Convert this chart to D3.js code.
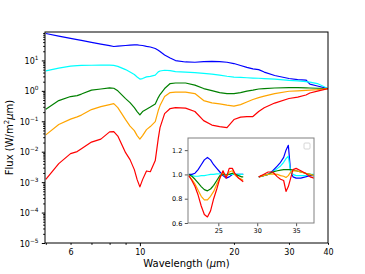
<!DOCTYPE html>
<html lang="en">
<head>
<meta charset="utf-8"/>
<style>
	body {
		margin: 0;
		background-color: #FFFFFF;
	}
	* {
		font-family: "DejaVu Sans", sans-serif;
	}
	.domain {
		display: none;
	}
	.tick line {
		stroke: #000000;
	}
	.inset .tick line {
		stroke: #555555;
	}
	.curve {
		fill: none;
		stroke-width: 1.2;
		stroke-linejoin: round;
	}
</style>
</head>
<body>
<svg id="container" width="365" height="274"></svg>

<script src="https://d3js.org/d3.v7.min.js"></script>
<script>
	// main panel: wavelength grid (micron) and flux of each model (W/m^2 um)
	let wave = [5.0, 5.5, 6.0, 6.3, 6.5, 7.0, 7.5, 8.0, 8.25, 8.5, 9.0, 9.3, 9.6, 9.8, 10.0,
		10.2, 10.5, 10.8, 11.2, 11.45, 11.6, 12.0, 12.5, 13, 14, 15, 16, 17, 18, 19,
		20, 21, 22, 23, 24, 25, 27, 30, 32, 34, 35, 37, 40]
	let fluxBlue = [76.7, 63, 53, 48.3, 45.5, 39.4, 34.4, 30.5, 28.7, 29.5, 31, 32, 32.6, 32.3, 31.6,
		31, 29.1, 27.6, 24.6, 21.5, 19.6, 15.1, 12, 9.9, 8.9, 8.7, 9.1, 9.3, 9.2, 8.7,
		7.9, 6.8, 5.9, 5.3, 5.0, 4.15, 3.2, 2.55, 2.35, 2.27, 1.67, 1.44, 1.19]
	let fluxCyan = [4.55, 5.6, 6.5, 6.75, 6.9, 6.95, 7.06, 7.0, 6.9, 6.4, 5.0, 4.15, 3.44, 2.84, 2.44,
		2.54, 2.89, 3.0, 3.3, 4.2, 4.5, 4.76, 4.6, 4.31, 4.15, 4.0, 3.77, 3.57, 3.31, 3.02,
		2.84, 2.78, 2.7, 2.64, 2.6, 2.54, 2.43, 2.21, 2.13, 2.02, 1.95, 1.74, 1.19]
	let fluxGreen = [0.248, 0.48, 0.65, 0.7, 0.785, 1.06, 1.15, 1.25, 1.22, 1.0, 0.558, 0.41, 0.28, 0.209, 0.162,
		0.209, 0.248, 0.293, 0.368, 0.6, 0.756, 1.19, 1.74, 1.81, 1.81, 1.55, 1.19, 1.02, 0.88, 0.81,
		0.81, 0.88, 0.985, 1.06, 1.15, 1.19, 1.24, 1.28, 1.28, 1.25, 1.24, 1.22, 1.19]
	let fluxOrange = [0.0357, 0.078, 0.118, 0.14, 0.16, 0.243, 0.305, 0.354, 0.382, 0.282, 0.114, 0.0695, 0.0494, 0.0339, 0.026,
		0.0339, 0.0533, 0.067, 0.098, 0.225, 0.328, 0.65, 0.88, 0.914, 0.914, 0.815, 0.48, 0.403, 0.373, 0.34,
		0.316, 0.354, 0.43, 0.52, 0.6, 0.675, 0.815, 0.97, 1.0, 1.04, 1.06, 1.1, 1.19]
	let fluxRed = [0.00124, 0.00406, 0.00866, 0.0101, 0.0126, 0.0207, 0.026, 0.0448, 0.0458, 0.0326, 0.0093, 0.0055, 0.00258, 0.00121, 0.0007,
		0.00121, 0.00233, 0.0022, 0.0051, 0.027, 0.062, 0.179, 0.262, 0.282, 0.272, 0.21, 0.105, 0.075, 0.067, 0.062,
		0.114, 0.137, 0.143, 0.143, 0.21, 0.28, 0.397, 0.56, 0.625, 0.73, 0.85, 0.985, 1.19]

	// inset: ratio around 1, two wavelength windows
	let insetWaveA = [21.2, 21.6, 22.0, 22.4, 22.8, 23.2, 23.6, 24.0, 24.4, 24.8, 25.2, 25.6, 26.0, 26.4, 26.8, 27.2, 27.6, 28.0, 28.2]
	let ratioBlueA = [1.0, 1.0, 1.01, 1.04, 1.08, 1.12, 1.14, 1.12, 1.08, 1.05, 1.02, 0.99, 0.97, 0.98, 1.0, 1.0, 1.0, 1.0, 1.0]
	let ratioCyanA = [0.99, 0.99, 0.985, 0.985, 0.99, 0.99, 0.995, 1.0, 1.0, 1.005, 1.005, 1.005, 1.0, 1.0, 1.0, 1.0, 1.0, 1.0, 1.0]
	let ratioGreenA = [1.0, 0.985, 0.96, 0.93, 0.9, 0.875, 0.865, 0.88, 0.91, 0.95, 0.99, 1.0, 0.995, 1.0, 1.01, 1.0, 0.99, 0.98, 0.98]
	let ratioOrangeA = [0.99, 0.96, 0.92, 0.87, 0.82, 0.79, 0.79, 0.82, 0.86, 0.92, 0.97, 1.02, 0.98, 1.02, 1.03, 0.99, 0.97, 0.96, 0.95]
	let ratioRedA = [0.99, 0.95, 0.9, 0.83, 0.74, 0.67, 0.65, 0.7, 0.8, 0.88, 0.97, 1.03, 0.97, 1.05, 1.05, 1.0, 0.97, 0.95, 0.94]

	let insetWaveB = [30.2, 30.8, 31.4, 32.0, 32.6, 33.0, 33.4, 33.7, 34.0, 34.3, 34.6, 35.0, 35.6, 36.2, 36.8, 37.3]
	let ratioBlueB = [0.98, 0.99, 1.0, 1.03, 1.07, 1.1, 1.14, 1.2, 1.24, 1.02, 0.98, 0.97, 0.97, 0.98, 0.99, 0.99]
	let ratioCyanB = [0.98, 0.99, 1.0, 1.02, 1.05, 1.07, 1.1, 1.13, 1.15, 1.02, 1.0, 0.99, 0.99, 0.99, 1.0, 1.0]
	let ratioGreenB = [0.98, 0.99, 1.0, 1.02, 1.03, 1.035, 1.04, 1.04, 1.04, 1.04, 1.035, 1.03, 1.02, 1.01, 1.0, 0.99]
	let ratioOrangeB = [0.98, 0.99, 1.0, 1.005, 1.0, 0.99, 0.985, 0.975, 0.99, 1.02, 1.03, 1.03, 1.02, 1.01, 1.0, 0.99]
	let ratioRedB = [0.98, 1.0, 1.02, 1.02, 0.98, 0.96, 0.95, 0.86, 0.9, 0.97, 1.04, 1.05, 1.03, 1.01, 0.98, 0.97]

	let colors = ["#0000ff", "#00ffff", "#008000", "#ffa500", "#ff0000"]

	// tick labels
	let xLabelTicks = [6, 20, 30, 40]
	let xMinorTicks = [5, 6, 7, 8, 9, 20, 30, 40]
	let yDecades = [-5, -4, -3, -2, -1, 0, 1]
	let insetXTicks = [25, 30, 35]
	let insetYTicks = [0.6, 0.8, 1.0, 1.2]

	let svg = d3.select("#container")
	let mLeft = 45, mRight = 328, mTop = 32, mBottom = 243

	let xScale = d3.scaleLog().domain([4.97, 40]).range([mLeft, mRight])
	let yScale = d3.scaleLog().domain([1e-5, 86]).range([mBottom, mTop])

	svg.append("clipPath").attr("id", "mainclip")
		.append("rect").attr("x", mLeft).attr("y", mTop).attr("width", mRight - mLeft).attr("height", mBottom - mTop)

	let line = d3.line()
		.x(d => xScale(d[0]))
		.y(d => yScale(d[1]))

	let mainSeries = [fluxBlue, fluxCyan, fluxGreen, fluxOrange, fluxRed]
	svg.append("g").attr("clip-path", "url(#mainclip)")
		.selectAll("path")
		.data(mainSeries)
		.join("path")
		.attr("class", "curve")
		.attr("stroke", (d, i) => colors[i])
		.attr("d", d => line(wave.map((w, i) => [w, d[i]])))

	// x axis: minor ticks (some labelled) + major at 10
	svg.append("g")
		.attr("transform", "translate(0," + mBottom + ")")
		.call(d3.axisBottom(xScale).tickValues(xMinorTicks).tickSize(1.8).tickPadding(4.4)
			.tickFormat(d => xLabelTicks.includes(d) ? d : ""))
		.attr("font-size", 8)
	svg.append("g")
		.attr("transform", "translate(0," + mBottom + ")")
		.call(d3.axisBottom(xScale).tickValues([10]).tickSize(3.2).tickPadding(3).tickFormat(d => d))
		.attr("font-size", 8)

	// y axis: decades with superscript labels, 2..9 minor ticks
	let yMinor = []
	yDecades.concat([2]).forEach(e => {
		for (let k = 2; k <= 9; k++) {
			let v = k * Math.pow(10, e - 1)
			if (v > 1e-5 && v < 86) yMinor.push(v)
		}
	})
	svg.append("g")
		.attr("transform", "translate(" + mLeft + ",0)")
		.call(d3.axisLeft(yScale).tickValues(yMinor).tickSize(1.8).tickFormat(""))
	svg.append("g")
		.attr("transform", "translate(" + mLeft + ",0)")
		.call(d3.axisLeft(yScale).tickValues(yDecades.map(e => Math.pow(10, e))).tickSize(3.2).tickFormat(""))

	let yLabels = svg.append("g")
		.selectAll("text")
		.data(yDecades)
		.join("text")
		.attr("x", mLeft - 6.5)
		.attr("y", d => yScale(Math.pow(10, d)) + 3.5)
		.attr("text-anchor", "end")
		.attr("font-size", 8)
		.attr("fill", "#000")
	yLabels.append("tspan").text("10")
	yLabels.append("tspan").attr("dy", -4).attr("font-size", 5.8)
		.text(d => d < 0 ? "\u2212" + (-d) : d)

	// frame
	svg.append("rect")
		.attr("x", mLeft).attr("y", mTop)
		.attr("width", mRight - mLeft).attr("height", mBottom - mTop)
		.attr("fill", "none").attr("stroke", "#000").attr("stroke-width", 1)

	// axis titles
	svg.append("text")
		.attr("x", (mLeft + mRight) / 2).attr("y", 267)
		.attr("text-anchor", "middle").attr("font-size", 10)
		.html("Wavelength (<tspan font-style='italic'>\u03bc</tspan>m)")

	let ylab = svg.append("text")
		.attr("transform", "translate(13," + ((mTop + mBottom) / 2) + ") rotate(-90)")
		.attr("text-anchor", "middle").attr("font-size", 10)
	ylab.append("tspan").text("Flux (W/m")
	ylab.append("tspan").attr("dy", -4).attr("font-size", 7).text("2")
	ylab.append("tspan").attr("dy", 4).attr("font-style", "italic").text("\u03bc")
	ylab.append("tspan").text("m)")

	// ---- inset ----
	let ix0 = 188, ix1 = 314, iy0 = 138, iy1 = 223
	let insetX = d3.scaleLinear().domain([21.1, 37.3]).range([ix0, ix1])
	let insetY = d3.scaleLinear().domain([0.6, 1.3]).range([iy1, iy0])

	let inset = svg.append("g").attr("class", "inset")
	inset.append("rect")
		.attr("x", ix0).attr("y", iy0).attr("width", ix1 - ix0).attr("height", iy1 - iy0)
		.attr("fill", "#fff")

	svg.append("clipPath").attr("id", "insetclip")
		.append("rect").attr("x", ix0).attr("y", iy0).attr("width", ix1 - ix0).attr("height", iy1 - iy0)

	let insetLine = d3.line()
		.x(d => insetX(d[0]))
		.y(d => insetY(d[1]))

	let insetSeries = [
		[ratioBlueA, ratioBlueB],
		[ratioCyanA, ratioCyanB],
		[ratioGreenA, ratioGreenB],
		[ratioOrangeA, ratioOrangeB],
		[ratioRedA, ratioRedB]
	]
	let insetLines = inset.append("g").attr("clip-path", "url(#insetclip)")
	insetSeries.forEach((s, i) => {
		insetLines.append("path").attr("class", "curve").attr("stroke", colors[i])
			.attr("d", insetLine(insetWaveA.map((w, j) => [w, s[0][j]])))
		insetLines.append("path").attr("class", "curve").attr("stroke", colors[i])
			.attr("d", insetLine(insetWaveB.map((w, j) => [w, s[1][j]])))
	})

	inset.append("g")
		.attr("transform", "translate(0," + iy1 + ")")
		.call(d3.axisBottom(insetX).tickValues(insetXTicks).tickSize(3.2).tickPadding(2.5).tickFormat(d3.format("d")))
		.attr("font-size", 6.5)
	inset.append("g")
		.attr("transform", "translate(" + ix0 + ",0)")
		.call(d3.axisLeft(insetY).tickValues(insetYTicks).tickSize(3.2).tickPadding(2.5).tickFormat(d3.format(".1f")))
		.attr("font-size", 6.5)

	inset.append("rect")
		.attr("x", ix0).attr("y", iy0).attr("width", ix1 - ix0).attr("height", iy1 - iy0)
		.attr("fill", "none").attr("stroke", "#808080").attr("stroke-width", 1)

	// empty legend box
	inset.append("rect")
		.attr("x", 304).attr("y", 143).attr("width", 6).attr("height", 6).attr("rx", 1)
		.attr("fill", "#fff").attr("stroke", "#cccccc").attr("stroke-width", 0.8)
</script>
</body>
</html>
